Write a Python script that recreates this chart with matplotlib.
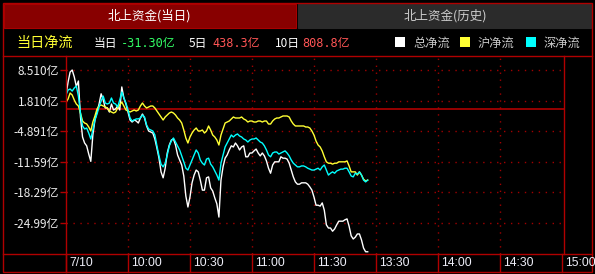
import matplotlib
matplotlib.use('Agg')
import matplotlib.pyplot as plt
from matplotlib.transforms import blended_transform_factory, offset_copy
from matplotlib.patches import Rectangle
from matplotlib.lines import Line2D

plt.rcParams['font.family'] = ['Noto Sans CJK SC', 'DejaVu Sans']

# ---------------- data ----------------
minutes = list(range(147))  # minutes of trading since 9:30

total_flow = [3.04, 5.88, 8.07, 8.51, 7.0, 4.9, 6.1, -1.78, -6.16, -7.48, -8.1, -9.9, -11.5, -5.7, -2.44,
              -0.69, 1.06, 3.3, 2.0, 0.19, 0.2, -0.69, 1.06, -0.25, 0.0, 0.63, -0.25, 4.8, 2.38, 1.06, -0.69,
              -2.44, -2.88, -2.44, -2.66, -3.1, -2.0, -1.13, -2.0, -3.75, -4.85, -5.07, -5.29, -6.6, -8.57, -10.8,
              -13.8, -15.1, -13.0, -9.67, -7.92, -6.82, -6.6, -7.92, -10.1, -11.2, -12.3, -14.7, -19.1, -21.5, -19.3,
              -16.2, -14.5, -13.4, -13.8, -15.6, -17.8, -17.8, -15.1, -14.9, -17.3, -18.0, -19.5, -20.8, -23.7, -15.6,
              -12.7, -10.8, -10.1, -9.0, -8.1, -8.35, -7.48, -8.1, -9.0, -8.35, -8.1, -10.5, -10.5, -9.67, -9.67,
              -9.2, -8.8, -9.67, -10.3, -9.67, -10.3, -11.4, -13.0, -14.1, -12.3, -11.6, -11.6, -11.6, -10.5, -10.8,
              -10.8, -11.0, -11.9, -13.4, -14.9, -16.0, -16.5, -16.5, -16.2, -16.2, -16.2, -16.5, -17.1, -17.8, -19.3,
              -21.1, -21.1, -21.3, -20.6, -22.2, -25.4, -26.1, -26.1, -26.8, -26.3, -25.4, -24.6, -24.6, -24.6, -24.3,
              -24.1, -25.7, -27.8, -28.5, -28.1, -27.4, -27.4, -28.7, -30.5, -31.3, -31.3]

sz_flow = [3.04, 4.13, 4.35, 3.9, 4.57, 5.0, 2.8, -0.9, -3.75, -4.4, -4.2, -5.3, -6.6, -4.6, -2.44,
           -1.13, 0.41, 1.72, 2.8, 1.28, 1.06, 1.28, 2.38, 1.28, 1.06, 0.41, 1.94, 3.69, 2.38, 1.28, -0.25,
           -2.0, -2.66, -2.44, -2.2, -2.2, -2.0, -1.35, -1.78, -3.54, -4.4, -4.63, -4.85, -5.7, -8.1, -10.3,
           -12.1, -12.7, -11.9, -10.1, -8.1, -7.0, -6.38, -7.26, -8.1, -9.0, -10.3, -11.6, -13.0, -13.4, -12.3,
           -11.2, -10.1, -9.0, -9.67, -11.2, -11.9, -12.3, -11.0, -10.8, -12.1, -12.7, -13.6, -14.5, -15.6, -11.9,
           -10.1, -8.35, -7.48, -6.6, -5.73, -6.16, -5.73, -5.5, -5.95, -6.16, -6.6, -6.82, -7.26, -6.82, -6.6,
           -6.6, -6.38, -6.82, -7.26, -7.48, -8.1, -9.0, -10.1, -10.5, -9.67, -9.45, -9.45, -9.9, -9.67, -9.45,
           -9.2, -9.67, -10.3, -11.2, -11.9, -12.3, -12.7, -12.7, -12.5, -12.5, -12.7, -13.0, -13.2, -13.4, -13.4,
           -13.2, -13.0, -13.4, -12.7, -12.3, -13.4, -14.5, -14.1, -13.8, -14.1, -13.6, -13.4, -13.2, -13.2, -13.0,
           -13.0, -13.8, -14.7, -14.9, -14.1, -14.3, -13.8, -14.5, -15.6, -16.0, -15.6]

sh_flow = [1.5, 2.16, 3.47, 3.04, 1.94, 1.06, 0.63, -0.91, -2.66, -3.1, -3.3, -3.97, -4.85, -2.88, -1.56,
           -0.03, 0.63, 0.85, 0.63, 0.41, 0.19, -0.47, -0.69, -0.91, -0.69, 0.19, 0.85, 1.5, 0.63, -0.25, -0.47,
           -0.69, -0.47, -0.25, -0.47, -0.25, 0.63, 1.28, 0.63, 0.19, 0.41, 0.63, 0.63, 0.19, -0.47, -1.13,
           -1.78, -2.44, -1.78, -1.35, -0.91, -0.69, -0.91, -1.35, -2.0, -2.44, -3.1, -4.63, -6.38, -7.48, -6.16,
           -5.29, -4.63, -4.19, -4.85, -4.85, -4.63, -5.29, -4.85, -3.75, -4.63, -5.73, -6.16, -6.82, -7.92, -5.73,
           -4.4, -3.1, -2.88, -2.66, -2.22, -1.78, -2.0, -2.0, -2.0, -1.78, -2.22, -2.44, -2.88, -2.66, -2.66,
           -2.88, -2.88, -2.66, -2.66, -2.88, -2.66, -2.66, -3.32, -3.32, -2.66, -2.22, -2.0, -2.0, -1.78, -1.56,
           -1.56, -1.56, -1.78, -2.66, -3.32, -3.75, -3.75, -3.75, -3.75, -3.75, -3.97, -3.97, -4.19, -4.85, -5.73,
           -7.04, -7.92, -8.35, -9.23, -10.5, -11.6, -11.9, -11.9, -12.1, -11.9, -11.9, -11.6, -11.6, -11.6, -11.6,
           -11.4, -12.5, -13.8, -13.8, -13.8, -14.5, -13.8, -14.5, -15.4, -15.8, -15.6]

y_ticks = [8.51, 1.81, -4.891, -11.59, -18.29, -24.99]
y_tick_labels = ['8.510亿', '1.810亿', '-4.891亿', '-11.59亿', '-18.29亿', '-24.99亿']
x_ticks = [0, 30, 60, 90, 120, 150, 180, 210, 240]
x_tick_labels = ['7/10', '10:00', '10:30', '11:00', '11:30', '13:30', '14:00', '14:30', '15:00']

tab_labels = ['北上资金(当日)', '北上资金(历史)']
header_title = '当日净流'
summary_labels = ['当日', '5日', '10日']
summary_values = ['-31.30亿', '438.3亿', '808.8亿']
series_names = ['总净流', '沪净流', '深净流']

# ---------------- style ----------------
W, H = 595, 274
FRAME = '#b00000'
GRID = '#a00000'
WHITE = '#ffffff'
YELLOW = '#ffff33'
CYAN = '#00ffff'
MONO_CJK = ['DejaVu Sans Mono', 'Noto Sans CJK SC']

fig = plt.figure(figsize=(W / 100, H / 100), dpi=100, facecolor='black')


def fx(px):
    return px / W


def fy(py):
    return 1 - py / H


def hline(y, x0, x1, color=FRAME, lw=1.0):
    fig.add_artist(Line2D([fx(x0), fx(x1)], [fy(y), fy(y)], color=color, lw=lw))


def vline(x, y0, y1, color=FRAME, lw=1.0):
    fig.add_artist(Line2D([fx(x), fx(x)], [fy(y0), fy(y1)], color=color, lw=lw))


# tabs
fig.add_artist(Rectangle((fx(4), fy(28)), fx(296) - fx(4), fy(4) - fy(28),
                         facecolor='#880000', edgecolor='#a80000', lw=0.8))
fig.add_artist(Rectangle((fx(298), fy(28)), fx(591) - fx(298), fy(4) - fy(28),
                         facecolor='#2b2b2b', edgecolor='#2b2b2b', lw=0.8))
fig.text(fx(149), fy(16), tab_labels[0], color='white', fontsize=9.0, ha='center', va='center')
fig.text(fx(445), fy(16), tab_labels[1], color='#cccccc', fontsize=9.0, ha='center', va='center')

# header row
fig.text(fx(16), fy(43), header_title, color=YELLOW, fontsize=10.2, ha='left', va='center')
summary_colors = ['#33ff66', '#ff5555', '#ff5555']
label_x = [94, 189, 275]
value_x = [121, 212, 302]
for lab, lx, val, vx, c in zip(summary_labels, label_x, summary_values, value_x, summary_colors):
    fig.text(fx(lx), fy(43), lab, color='white', fontsize=8.5, ha='left', va='center')
    fig.text(fx(vx), fy(43), val, color=c, fontsize=8.6, ha='left', va='center', family=MONO_CJK)

legend_colors = [WHITE, YELLOW, CYAN]
sq_x = [395, 460, 526]
for name, c, sx in zip(series_names, legend_colors, sq_x):
    fig.add_artist(Rectangle((fx(sx), fy(47)), fx(10), fy(37) - fy(47), facecolor=c, edgecolor='none'))
    fig.text(fx(sx + 18), fy(43), name, color='#c8c8c8', fontsize=8.8, ha='left', va='center')

# frame lines
fig.add_artist(Rectangle((fx(3), fy(272)), fx(592) - fx(3), fy(3) - fy(272),
                         fill=False, edgecolor=FRAME, lw=1.0))
hline(56, 3, 592)
hline(254, 3, 592)
vline(66, 56, 272)
vline(564, 56, 254)

# ---------------- main axes ----------------
ax = fig.add_axes([fx(66), fy(254), fx(564) - fx(66), fy(56) - fy(254)])
ax.set_facecolor('black')
ax.set_xlim(0, 241)
ax.set_ylim(-31.79, 11.58)
for s in ax.spines.values():
    s.set_visible(False)

for yv in y_ticks:
    ax.axhline(yv, color=GRID, lw=1.0, ls=(0, (1, 4)), zorder=1)
for xv in x_ticks[1:-1]:
    ax.axvline(xv, color=GRID, lw=1.0, ls=(0, (1, 4)), zorder=1)
ax.axhline(0, color=FRAME, lw=1.2, zorder=1)

ax.plot(minutes, total_flow, color=WHITE, lw=1.0, zorder=3)
ax.plot(minutes, sh_flow, color=YELLOW, lw=1.0, zorder=4)
ax.plot(minutes, sz_flow, color=CYAN, lw=1.0, zorder=5)

ax.set_xticks([])
ax.set_yticks(y_ticks)
ax.set_yticklabels(y_tick_labels)
ax.tick_params(axis='y', direction='out', length=4.5, width=1.0, color=FRAME,
               labelcolor='#ececec', labelsize=8.5, pad=0.5)

# x labels in the bottom row
blend = blended_transform_factory(ax.transData, fig.transFigure)
text_tr = offset_copy(blend, fig=fig, x=3, y=0, units='dots')
for xv, lab in zip(x_ticks, x_tick_labels):
    fig.add_artist(Line2D([xv, xv], [fy(254), fy(272)], transform=blend, color=FRAME, lw=1.0))
    fig.text(xv, fy(263.5), lab, transform=text_tr, color='#eeeef8', fontsize=8.7,
             ha='left', va='center', family=['Liberation Sans', 'DejaVu Sans'])

fig.savefig('out.png', dpi=100, facecolor='black')
